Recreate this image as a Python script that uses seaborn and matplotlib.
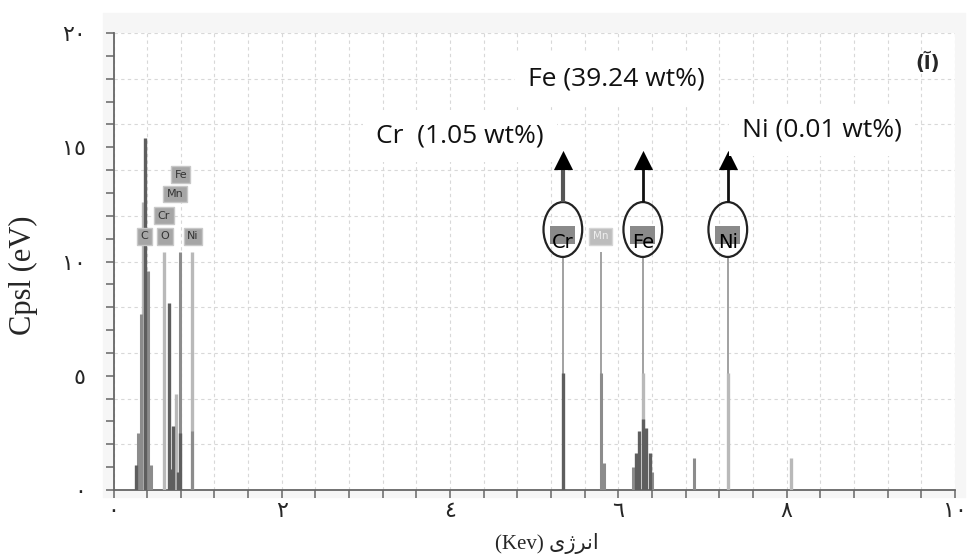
import matplotlib
matplotlib.use("Agg")
import matplotlib.pyplot as plt
from matplotlib.patches import Ellipse, Rectangle
import numpy as np
import pandas as pd
import seaborn as sns

# EDS spectrum: energy (keV) and counts per peak line
dark_energy = [0.27, 0.37, 0.66, 0.67, 0.71, 0.77, 0.79, 5.34, 6.21, 6.25, 6.29, 6.33, 6.37]
dark_counts = [1.1, 15.4, 8.2, 0.9, 2.8, 0.8, 2.5, 5.1, 1.6, 2.6, 3.1, 2.7, 1.6]

mid_energy = [0.29, 0.33, 0.41, 0.45, 0.79, 0.93, 5.79, 5.83, 6.17, 6.40, 6.90]
mid_counts = [2.5, 7.7, 9.6, 1.1, 10.4, 2.6, 5.1, 1.2, 1.0, 0.8, 1.4]

light_energy = [0.35, 0.60, 0.74, 0.93, 6.29, 7.30, 8.05]
light_counts = [12.6, 10.4, 4.2, 10.4, 5.1, 5.1, 1.4]

# thin marker lines running from a peak up to its element tag
marker_energy = [5.34, 5.79, 6.29, 7.30]
marker_counts = [10.2, 10.4, 10.2, 10.2]

# element tags of the low-energy cluster
tag_names = ["C", "O", "Ni", "Cr", "Mn", "Fe"]
tag_energy = [0.37, 0.61, 0.94, 0.60, 0.73, 0.80]
tag_counts = [11.1, 11.1, 11.1, 12.0, 12.95, 13.8]

# circled elements with their weight percent
marked_names = ["Cr", "Fe", "Ni"]
marked_energy = [5.34, 6.29, 7.30]
wt_text = ["Cr  (1.05 wt%)", "Fe (39.24 wt%)", "Ni (0.01 wt%)"]
wt_energy = [4.12, 5.98, 8.42]
wt_counts = [15.5, 18.0, 15.75]

x_ticks = [0, 2, 4, 6, 8, 10]
x_tick_labels = ["٠", "٢", "٤", "٦", "٨", "١٠"]
y_ticks = [0, 5, 10, 15, 20]
y_tick_labels = ["٠", "٥", "١٠", "١٥", "٢٠"]

sns.set_style("ticks")

W, H = 971, 554
fig = plt.figure(figsize=(W / 100, H / 100), dpi=100)
fig.patches.append(Rectangle((103 / W, 1 - 497 / H), 862 / W, 484 / H,
                             transform=fig.transFigure, color="#f6f6f6", zorder=-5))
ax = fig.add_axes([113.5 / W, 1 - 490 / H, 841.5 / W, 457 / H])
ax.set_facecolor("white")

# dashed background grid like the analyser screen
ax.set_xticks(np.arange(0, 10.01, 0.4), minor=True)
ax.set_yticks(np.arange(0, 20.01, 1), minor=True)
ax.grid(axis="x", which="both", color="#d8d8d8", ls=(0, (3, 3)), lw=0.8, zorder=0)
for yv in np.arange(2, 20.5, 2):
    ax.axhline(yv, color="#d8d8d8", ls=(0, (3, 3)), lw=0.8, zorder=0)

# spectrum lines
ax.vlines(marker_energy, 0, marker_counts, color="#9a9a9a", lw=1.3, zorder=2)
ax.vlines(light_energy, 0, light_counts, color="#b9b9b9", lw=2.4, zorder=3)
ax.vlines(mid_energy, 0, mid_counts, color="#8c8c8c", lw=2.2, zorder=4)
ax.vlines(dark_energy, 0, dark_counts, color="#5e5e5e", lw=2.4, zorder=5)

# element tags near the origin
for name, ex, cy in zip(tag_names, tag_energy, tag_counts):
    ax.text(ex, cy, name, ha="center", va="center", fontsize=8, color="#333333",
            zorder=7, bbox=dict(boxstyle="square,pad=0.3", fc="#a6a6a6", ec="#c8c8c8", lw=1))

# Mn tag without circle
ax.text(5.79, 11.1, "Mn", ha="center", va="center", fontsize=7.5, color="#eeeeee", zorder=7,
        bbox=dict(boxstyle="square,pad=0.35", fc="#bdbdbd", ec="#d5d5d5", lw=1))

# circled Cr / Fe / Ni with arrows
for name, ex in zip(marked_names, marked_energy):
    ax.add_patch(Rectangle((ex - 0.15, 10.75), 0.30, 0.8, fc="#8a8a8a", ec="none", zorder=6))
    ax.text(ex, 10.85, name, ha="center", va="center", fontsize=14, color="black", zorder=8)
    ax.add_patch(Ellipse((ex, 11.4), 0.46, 2.4, fill=False, ec="#222222", lw=1.6, zorder=8))
    ax.vlines(ex, 12.6, 14.3, color="#111111" if name != "Cr" else "#555555",
              lw=2.0 if name != "Cr" else 3.0, zorder=8)

heads = pd.DataFrame({"energy": marked_energy, "counts": [14.45] * 3})
sns.scatterplot(data=heads, x="energy", y="counts", marker="^", s=190, color="black",
                edgecolor="black", linewidth=0, ax=ax, zorder=9, legend=False)

# weight percent labels on white patches
for t, ex, cy in zip(wt_text, wt_energy, wt_counts):
    ax.text(ex, cy, t, ha="center", va="center", fontsize=19, family="Open Sans",
            color="#111111", zorder=10,
            bbox=dict(boxstyle="square,pad=0.5", fc="white", ec="none"))

ax.text(9.67, 18.7, "(آ)", ha="center", va="center", fontsize=14, fontweight="bold",
        family="DejaVu Sans", zorder=10)

ax.set_xlim(0, 10)
ax.set_ylim(0, 20)
ax.set_xticks(x_ticks)
ax.set_xticklabels(x_tick_labels, family="DejaVu Sans", fontsize=16)
ax.set_yticks(y_ticks)
ax.set_yticklabels(y_tick_labels, family="DejaVu Sans", fontsize=16)
ax.tick_params(axis="both", which="both", direction="out", length=6, width=1.1,
               color="#666666")
ax.tick_params(axis="x", pad=2)
ax.tick_params(axis="y", pad=14)
for side in ["top", "right"]:
    ax.spines[side].set_visible(False)
for side in ["left", "bottom"]:
    ax.spines[side].set_color("#666666")
    ax.spines[side].set_linewidth(1.3)

# "energy (Kev)" in Persian, pre-shaped glyphs in visual order
ax.set_xlabel("(Kev) \ufbfc\ufb8a\ufeae\ufee7\ufe8d", family=["Liberation Serif", "DejaVu Sans"],
              fontsize=15)
ax.xaxis.set_label_coords(0.515, -0.095)
ax.set_ylabel("Cpsl (eV)", family="Liberation Serif", fontsize=22)
ax.yaxis.set_label_coords(-0.09, 0.47)

fig.savefig("out.png", dpi=100)
